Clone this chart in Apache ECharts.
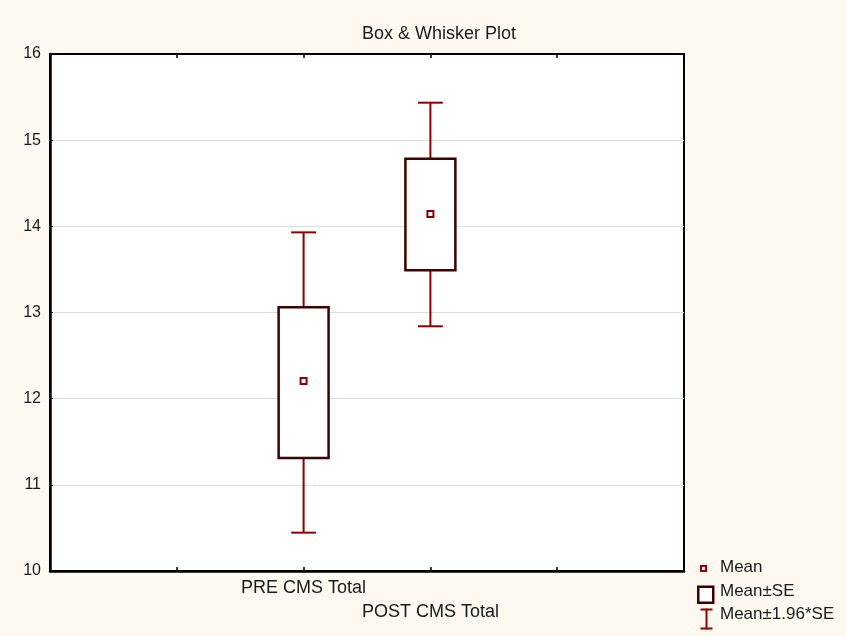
<!DOCTYPE html>
<html>
<head>
<meta charset="utf-8">
<script src="https://cdn.jsdelivr.net/npm/echarts@6/dist/echarts.min.js"></script>
<style>
  html, body { margin: 0; padding: 0; background: #fdf9f0; }
  #chart { width: 846px; height: 636px; }
</style>
</head>
<body>
<div id="chart"></div>
<script>
// ---- data ----
const groups = ['PRE CMS Total', 'POST CMS Total'];
const means  = [12.205, 14.143];
const seLow  = [11.31, 13.49];
const seHigh = [13.06, 14.785];
const ciLow  = [10.445, 12.84];
const ciHigh = [13.93, 15.435];
const yTicks = [10, 11, 12, 13, 14, 15, 16];
const slotOffset = 2;   // groups sit on the 3rd and 4th of 6 slots
const slotCount = 5;

const FONT = '"Liberation Sans", Arial, sans-serif';
const WHISKER = '#8b0000';
const BOXLINE = '#3f0000';

const xs = groups.map((g, i) => i + slotOffset);
const meanData = groups.map((g, i) => [xs[i], means[i]]);
const boxData = groups.map((g, i) => [xs[i], seLow[i], seHigh[i]]);
const whiskerData = groups.map((g, i) => [xs[i], ciLow[i], ciHigh[i], seLow[i], seHigh[i]]);

const chart = echarts.init(document.getElementById('chart'));

const option = {
  backgroundColor: '#fdf9f0',
  animation: false,
  title: {
    text: 'Box & Whisker Plot',
    left: 357, top: 20,
    textStyle: { fontFamily: FONT, fontSize: 18, fontWeight: 'normal', color: '#1a1a1a' }
  },
  grid: {
    left: 50, right: 162, top: 54, bottom: 65,
    show: true, backgroundColor: '#ffffff', borderColor: '#000', borderWidth: 2
  },
  xAxis: [{
    type: 'value', min: 0, max: slotCount, interval: 1, position: 'bottom',
    axisLine: { show: true, lineStyle: { color: '#000', width: 2.5 } },
    axisTick: { show: true, inside: true, length: 4, lineStyle: { color: '#000', width: 1.5 } },
    splitLine: { show: false },
    axisLabel: {
      show: true, margin: 5, fontFamily: FONT, fontSize: 18, color: '#1a1a1a', lineHeight: 24,
      formatter: function (v) {
        const i = Math.round(v) - slotOffset;
        if (i < 0 || i >= groups.length) return '';
        return (i % 2 === 1 ? '\n' : '') + groups[i];
      }
    }
  }, {
    type: 'value', min: 0, max: slotCount, interval: 1, position: 'top',
    axisLine: { show: true, lineStyle: { color: '#000', width: 2 } },
    axisTick: { show: true, inside: true, length: 4, lineStyle: { color: '#000', width: 1.5 } },
    axisLabel: { show: false },
    splitLine: { show: false }
  }],
  yAxis: [{
    type: 'value', min: yTicks[0], max: yTicks[yTicks.length - 1], interval: 1,
    axisLine: { show: true, lineStyle: { color: '#000', width: 2.5 } },
    axisTick: { show: true, inside: true, length: 3, lineStyle: { color: '#000', width: 1 } },
    splitLine: { show: true, lineStyle: { color: '#dedede', width: 1 } },
    axisLabel: { margin: 9, fontFamily: FONT, fontSize: 16, color: '#1a1a1a' }
  }],
  series: [
    {
      name: 'Mean±1.96*SE', type: 'custom', xAxisIndex: 0, yAxisIndex: 0, z: 2,
      data: whiskerData,
      renderItem: function (params, api) {
        const x = api.value(0);
        const pLo = api.coord([x, api.value(1)]);
        const pHi = api.coord([x, api.value(2)]);
        const pBoxLo = api.coord([x, api.value(3)]);
        const pBoxHi = api.coord([x, api.value(4)]);
        const half = api.size([1, 0])[0] * 0.098;
        const style = { stroke: WHISKER, lineWidth: 2, fill: null };
        return {
          type: 'group',
          children: [
            { type: 'line', shape: { x1: pHi[0], y1: pHi[1], x2: pBoxHi[0], y2: pBoxHi[1] }, style: style },
            { type: 'line', shape: { x1: pLo[0], y1: pLo[1], x2: pBoxLo[0], y2: pBoxLo[1] }, style: style },
            { type: 'line', shape: { x1: pHi[0] - half, y1: pHi[1], x2: pHi[0] + half, y2: pHi[1] }, style: style },
            { type: 'line', shape: { x1: pLo[0] - half, y1: pLo[1], x2: pLo[0] + half, y2: pLo[1] }, style: style }
          ]
        };
      }
    },
    {
      name: 'Mean±SE', type: 'custom', xAxisIndex: 0, yAxisIndex: 0, z: 3,
      data: boxData,
      renderItem: function (params, api) {
        const x = api.value(0);
        const pLo = api.coord([x, api.value(1)]);
        const pHi = api.coord([x, api.value(2)]);
        const half = api.size([1, 0])[0] * 0.197;
        return {
          type: 'rect',
          shape: { x: pHi[0] - half, y: pHi[1], width: half * 2, height: pLo[1] - pHi[1] },
          style: { fill: '#ffffff', stroke: BOXLINE, lineWidth: 2.5 }
        };
      }
    },
    {
      name: 'Mean', type: 'scatter', xAxisIndex: 0, yAxisIndex: 0, z: 4,
      data: meanData,
      symbol: 'rect', symbolSize: 6,
      itemStyle: { color: '#ffffff', borderColor: WHISKER, borderWidth: 2, opacity: 1 }
    }
  ],
  graphic: [
    { type: 'rect', left: 700, top: 565, shape: { width: 5, height: 5 },
      style: { fill: '#fff', stroke: WHISKER, lineWidth: 2 } },
    { type: 'text', left: 720, top: 559, style: { text: 'Mean', font: '17px ' + FONT, fill: '#1a1a1a' } },
    { type: 'rect', left: 697, top: 585.5, shape: { width: 15, height: 16 },
      style: { fill: '#fff', stroke: BOXLINE, lineWidth: 2.5 } },
    { type: 'text', left: 720, top: 583, style: { text: 'Mean±SE', font: '17px ' + FONT, fill: '#1a1a1a' } },
    { type: 'group', left: 698, top: 606, children: [
      { type: 'line', shape: { x1: 7, y1: 0, x2: 7, y2: 21 }, style: { stroke: WHISKER, lineWidth: 2 } },
      { type: 'line', shape: { x1: 1, y1: 1, x2: 13, y2: 1 }, style: { stroke: WHISKER, lineWidth: 2 } },
      { type: 'line', shape: { x1: 1, y1: 20, x2: 13, y2: 20 }, style: { stroke: WHISKER, lineWidth: 2 } }
    ] },
    { type: 'text', left: 720, top: 606, style: { text: 'Mean±1.96*SE', font: '17px ' + FONT, fill: '#1a1a1a' } }
  ]
};

chart.setOption(option);
</script>
</body>
</html>
